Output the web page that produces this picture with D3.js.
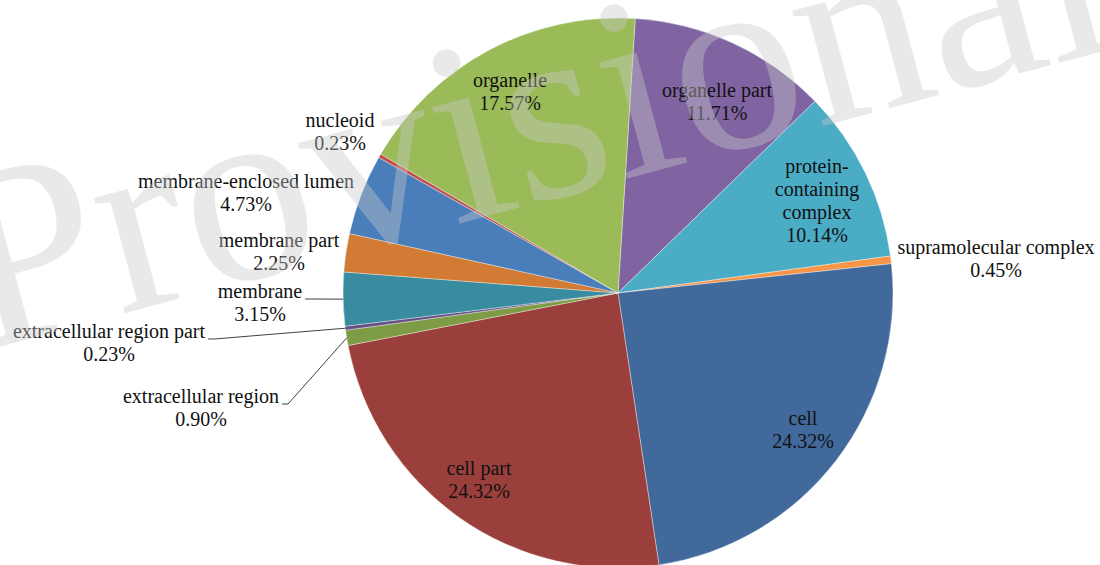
<!DOCTYPE html>
<html>
<head>
<meta charset="utf-8">
<script src="https://cdn.jsdelivr.net/npm/d3@7"></script>
<style>
  html, body { margin: 0; padding: 0; background: #fff; }
  svg { display: block; }
  text { font-family: "Liberation Serif", "Times New Roman", serif; }
</style>
</head>
<body>
<svg id="chart" width="1100" height="565"></svg>
<script>
// GO cellular component distribution (percent of annotated genes)
const categories = [
  "organelle part", "protein-containing complex", "supramolecular complex",
  "cell", "cell part", "extracellular region", "extracellular region part",
  "membrane", "membrane part", "membrane-enclosed lumen", "nucleoid", "organelle"
];
const values = [11.71, 10.14, 0.45, 24.32, 24.32, 0.90, 0.23, 3.15, 2.25, 4.73, 0.23, 17.57];
const colors = [
  "#8064a2", "#4bacc6", "#f79646", "#41699c", "#9b3f3c", "#7e9c45",
  "#664e86", "#398ba0", "#d27b34", "#4a7ebb", "#c0504d", "#9bbb59"
];
// wrapped label text for the category names
const nameLines = {
  "protein-containing complex": ["protein-", "containing", "complex"]
};

// label placement: centre x and first baseline; leader = draws a leader line
const labelLayout = {
  "organelle part":             { x: 717, y: 97 },
  "protein-containing complex": { x: 817, y: 173 },
  "supramolecular complex":     { x: 996, y: 254 },
  "cell":                       { x: 803, y: 425 },
  "cell part":                  { x: 479, y: 475 },
  "extracellular region":       { x: 201, y: 403, leader: true },
  "extracellular region part":  { x: 109, y: 338, leader: true },
  "membrane":                   { x: 260, y: 298, leader: true },
  "membrane part":              { x: 279, y: 247 },
  "membrane-enclosed lumen":    { x: 246, y: 188 },
  "nucleoid":                   { x: 340, y: 127 },
  "organelle":                  { x: 510, y: 87 }
};

const cx = 618, cy = 293, R = 275;
const startDeg = 3.6;
const fontSize = 20, lineH = 23;

const svg = d3.select("#chart");
const data = categories.map((c, i) => ({ name: c, value: values[i], color: colors[i] }));

const pie = d3.pie()
  .value(d => d.value)
  .sort(null)
  .startAngle(startDeg * Math.PI / 180)
  .endAngle(startDeg * Math.PI / 180 + 2 * Math.PI);

const arcs = pie(data);
const arc = d3.arc().innerRadius(0).outerRadius(R);
const rimArc = d3.arc().innerRadius(R).outerRadius(R);

const g = svg.append("g").attr("transform", `translate(${cx},${cy})`);

g.selectAll("path.slice")
  .data(arcs)
  .join("path")
  .attr("class", "slice")
  .attr("d", arc)
  .attr("fill", d => d.data.color)
  .attr("stroke", "rgba(255,255,255,0.45)")
  .attr("stroke-width", 0.8);

// data labels
const labels = svg.append("g");
arcs.forEach(a => {
  const name = a.data.name;
  const lay = labelLayout[name];
  const lines = (nameLines[name] || [name]).concat([a.data.value.toFixed(2) + "%"]);
  const t = labels.append("text")
    .attr("text-anchor", "middle")
    .attr("font-size", fontSize)
    .attr("fill", "#111");
  lines.forEach((ln, i) => {
    t.append("tspan").attr("x", lay.x).attr("y", lay.y + i * lineH).text(ln);
  });
  if (lay.leader) {
    const first = t.select("tspan").node();
    const w = first.getComputedTextLength();
    const x0 = lay.x + w / 2 + 3;
    const [px, py] = rimArc.centroid(a);
    const pts = [[x0, lay.y + 1], [x0 + 6, lay.y + 1], [cx + px, cy + py]];
    svg.append("path")
      .attr("d", d3.line()(pts))
      .attr("fill", "none")
      .attr("stroke", "#404040")
      .attr("stroke-width", 1);
  }
});

// watermark
svg.append("text")
  .attr("transform", "translate(-20,352) rotate(-15)")
  .attr("font-size", 260)
  .attr("fill", "#c8c8c8")
  .attr("fill-opacity", 0.4)
  .text("Provisional");
</script>
</body>
</html>
